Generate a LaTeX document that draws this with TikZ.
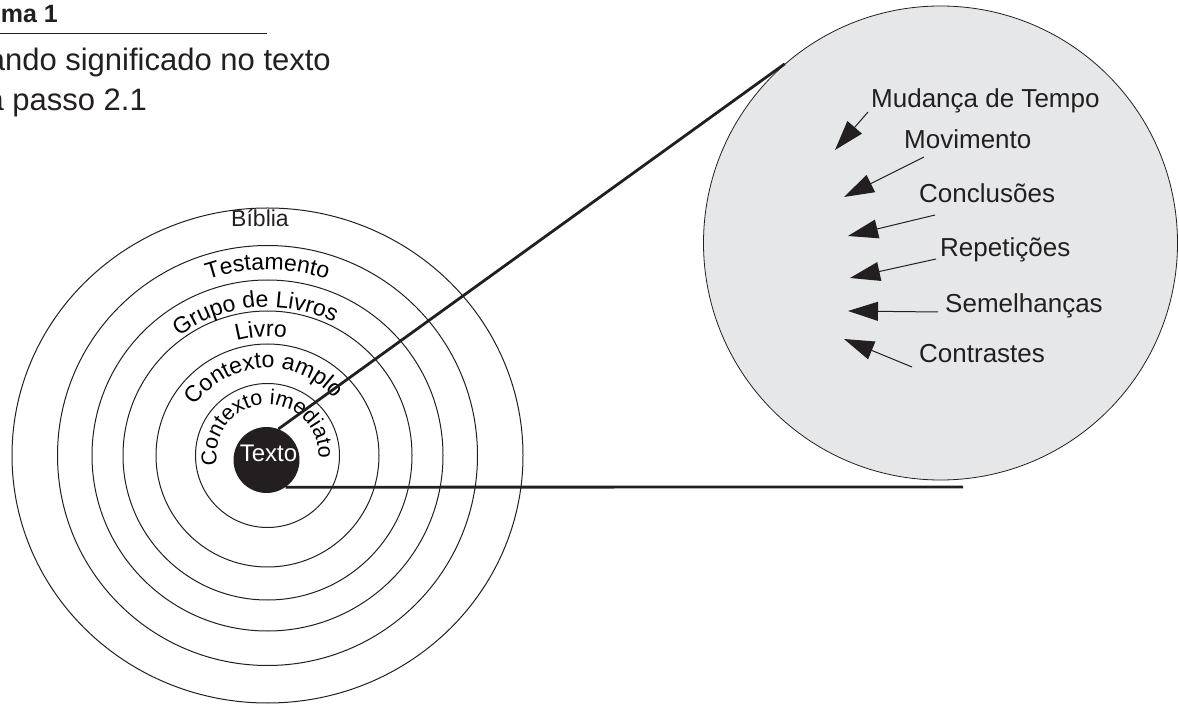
\documentclass[tikz,border=0pt]{standalone}
\usepackage{fontspec}
\setmainfont{Liberation Sans}
\usetikzlibrary{arrows.meta,decorations.text,calc}
\definecolor{zoomgray}{RGB}{230,231,232}
\definecolor{ink}{RGB}{35,31,32}
\newcommand{\myringfont}{\fontsize{23}{27}\selectfont}
\newcommand{\myinnerfont}{\fontsize{21.5}{25}\selectfont}
\begin{document}
\begin{tikzpicture}[x=1pt,y=1pt,
  ring/.style={draw=ink, line width=1pt},
  bigline/.style={draw=ink, line width=2.8pt},
  ptr/.style={draw=ink, line width=1pt, -{Triangle[length=30pt,width=19pt]}},
  lbl/.style={font=\fontsize{26}{30}\selectfont, text=ink, inner sep=0pt, anchor=base west},
  head/.style={font=\fontsize{31}{36}\selectfont, text=ink, inner sep=0pt, anchor=base east},
  ringtext/.style={decorate, decoration={text along path, text align=center, text={#1}}}
]
\useasboundingbox (0,0) rectangle (1179,705);
\clip (0,0) rectangle (1179,705);

% header
\node[font=\fontsize{25}{30}\selectfont\bfseries, text=ink, inner sep=0pt, anchor=base east] (title) at (58,682) {ma 1};
\coordinate (ulA) at (0,671);
\coordinate (ulB) at (267,671);
\draw[draw=ink, line width=1pt] (ulA) -- (ulB);
\node[head] (sub1) at (331,634) {ando significado no texto};
\node[head] (sub2) at (147,594.5) {a passo 2.1};

% zoom circle
\node[circle, draw=ink, line width=0.8pt, fill=zoomgray, minimum size=474pt, inner sep=0pt] (zoom) at (940.5,462) {};

% concentric rings
\coordinate (C) at (267.5,249.5);
\draw[ring] (C) ellipse [x radius=255.5pt, y radius=247.5pt];
\draw[ring] (C) circle [radius=210pt];
\draw[ring] (C) circle [radius=175.5pt];
\draw[ring] (C) circle [radius=144.5pt];
\draw[ring] (C) circle [radius=111.5pt];
\draw[ring] (C) circle [radius=72pt];

% ring labels
\node[font=\myringfont, text=ink, inner sep=0pt, anchor=base] (biblia) at (260,478) {Bíblia};
\path[ringtext={|\myringfont|Testamento}] ($(C)+(130:186pt)$) arc[start angle=130, end angle=50, radius=186pt];
\path[ringtext={|\myringfont|Grupo de Livros}] ($(C)+(145:148.5pt)$) arc[start angle=145, end angle=45, radius=148.5pt];
\path[ringtext={|\myringfont|Livro}] ($(C)+(123:118.5pt)$) arc[start angle=123, end angle=63, radius=118.5pt];
\path[ringtext={|\myringfont|Contexto amplo}] ($(C)+(163:87.5pt)$) arc[start angle=163, end angle=23, radius=87.5pt];
\path[ringtext={|\myinnerfont|Contexto imediato}] ($(C)+(204:51pt)$) arc[start angle=204, end angle=-16, radius=51pt];

% Texto
\node[circle, fill=ink, minimum size=66pt, inner sep=0pt] (texto) at (266.5,245) {};
\node[font=\fontsize{24}{28}\selectfont, text=white, inner sep=0pt] (textolbl) at (268.5,252) {Texto};

% connectors
\coordinate (hend) at (963,218);
\draw[bigline] (texto.69) -- (zoom.131);
\draw[bigline] (texto.-55) -- (hend);

% zoom labels
\node[lbl] (mud) at (871,597) {Mudança de Tempo};
\node[lbl] (mov) at (904,556) {Movimento};
\node[lbl] (con) at (919,502) {Conclusões};
\node[lbl] (rep) at (940,448) {Repetições};
\node[lbl] (sem) at (945,392) {Semelhanças};
\node[lbl] (ctr) at (919,342) {Contrastes};

% arrows
\coordinate (mudA) at (868,593); \coordinate (mudB) at (835,555);
\coordinate (movA) at (924,548); \coordinate (movB) at (844,508);
\coordinate (conA) at (935,490); \coordinate (conB) at (848,469);
\coordinate (repA) at (936,446); \coordinate (repB) at (850,427);
\coordinate (semA) at (938,393); \coordinate (semB) at (848,394);
\coordinate (ctrA) at (912,338); \coordinate (ctrB) at (844,366);
\draw[ptr] (mudA) -- (mudB);
\draw[ptr] (movA) -- (movB);
\draw[ptr] (conA) -- (conB);
\draw[ptr] (repA) -- (repB);
\draw[ptr] (semA) -- (semB);
\draw[ptr] (ctrA) -- (ctrB);
\end{tikzpicture}
\end{document}
